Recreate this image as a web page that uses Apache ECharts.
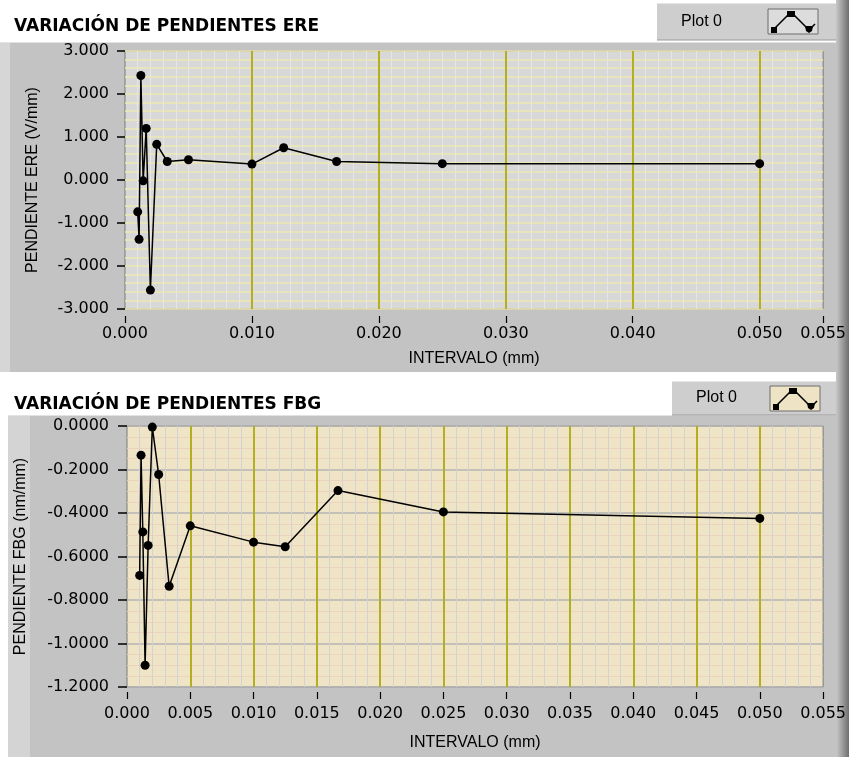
<!DOCTYPE html>
<html>
<head>
<meta charset="utf-8">
<script src="https://cdn.jsdelivr.net/npm/echarts@6/dist/echarts.min.js"></script>
<style>
  html, body { margin: 0; padding: 0; background: #ffffff; }
  #chart { width: 849px; height: 757px; }
</style>
</head>
<body>
<div id="chart"></div>
<script>
// Intervalo de medida (mm) y pendientes calculadas para cada intervalo
const intervalo    = [0.001, 0.00111, 0.00125, 0.00143, 0.00167, 0.002, 0.0025, 0.00333, 0.005, 0.01, 0.0125, 0.01667, 0.025, 0.05];
const pendienteERE = [-0.74, -1.38, 2.43, -0.02, 1.20, -2.56, 0.83, 0.43, 0.47, 0.37, 0.75, 0.43, 0.38, 0.38];
const pendienteFBG = [-0.687, -0.134, -0.487, -1.10, -0.549, -0.005, -0.223, -0.737, -0.459, -0.534, -0.555, -0.297, -0.395, -0.425];

// Rangos y pasos de los ejes
const xRange = [0, 0.055];
const ereRange = [-3, 3];
const fbgRange = [-1.2, 0];
const xStepERE = 0.01;
const xStepFBG = 0.005;
const xMinorStep = 0.001;
const ereStep = 1;
const fbgStep = 0.2;

const titles = ['VARIACIÓN DE PENDIENTES ERE', 'VARIACIÓN DE PENDIENTES FBG'];
const yNames = ['PENDIENTE ERE (V/mm)', 'PENDIENTE FBG (nm/mm)'];
const xName = 'INTERVALO (mm)';
const plotName = 'Plot 0';

const NUM_FONT = 'DejaVu Sans';
const TXT_FONT = 'Liberation Sans';
const OLIVE = '#b2b020';

const pairs = ys => intervalo.map((x, i) => [x, ys[i]]);

// eje auxiliar: sólo las líneas finas de la rejilla vertical
function minorXAxis(grid, color) {
  return {
    type: 'value', gridIndex: grid, position: 'top', min: xRange[0], max: xRange[1], interval: xMinorStep,
    axisLine: { show: false }, axisTick: { show: false }, axisLabel: { show: false },
    splitLine: { show: true, showMinLine: false, showMaxLine: false, lineStyle: { color: color, width: 1 } }
  };
}

// eje principal: marcas, etiquetas y líneas mayores
function mainXAxis(grid, step, offset, margin, nameGap) {
  return {
    type: 'value', gridIndex: grid, position: 'bottom', min: xRange[0], max: xRange[1], interval: step,
    offset: offset,
    name: xName, nameLocation: 'middle', nameGap: nameGap,
    nameTextStyle: { fontFamily: TXT_FONT, fontSize: 16, color: '#000' },
    axisLine: { show: false },
    axisTick: { show: true, length: 7, lineStyle: { color: '#000', width: 1.2 } },
    axisLabel: {
      show: true, margin: margin, showMinLabel: true, showMaxLabel: true, hideOverlap: false,
      fontFamily: NUM_FONT, fontSize: 16, color: '#000',
      formatter: v => v.toFixed(3)
    },
    splitLine: { show: true, showMinLine: false, showMaxLine: false, lineStyle: { color: OLIVE, width: 2 } }
  };
}

function legendBox(x, y, w, h, textX, iconX, iconY, iconFill) {
  return [
    { type: 'rect', shape: { x: x, y: y, width: w, height: h }, style: { fill: '#cecece' }, z: 1 },
    { type: 'line', shape: { x1: x, y1: y + h, x2: x + w, y2: y + h }, style: { stroke: '#9a9a9a', lineWidth: 1 }, z: 2 },
    { type: 'line', shape: { x1: x, y1: y + 0.5, x2: x + w, y2: y + 0.5 }, style: { stroke: '#e6e6e6', lineWidth: 1 }, z: 2 },
    { type: 'text', style: { text: plotName, x: textX, y: y + h / 2, verticalAlign: 'middle',
      font: '16px "Liberation Sans"', fill: '#000' }, z: 3 },
    { type: 'rect', shape: { x: iconX, y: iconY, width: 50, height: 25 },
      style: { fill: iconFill, stroke: '#6c6c6c', lineWidth: 1 }, z: 2 },
    { type: 'polyline', shape: { points: [[iconX + 5, iconY + 21], [iconX + 20, iconY + 6], [iconX + 26, iconY + 6], [iconX + 41, iconY + 21], [iconX + 47, iconY + 15]] },
      style: { stroke: '#000', lineWidth: 1.5, fill: null }, z: 3 },
    { type: 'rect', shape: { x: iconX + 3, y: iconY + 18, width: 6, height: 6 }, style: { fill: '#000' }, z: 4 },
    { type: 'rect', shape: { x: iconX + 19, y: iconY + 2, width: 8, height: 6 }, style: { fill: '#000' }, z: 4 },
    { type: 'polygon', shape: { points: [[iconX + 37, iconY + 17], [iconX + 45, iconY + 17], [iconX + 44, iconY + 22], [iconX + 41, iconY + 24], [iconX + 38, iconY + 22]] }, style: { fill: '#000' }, z: 4 }
  ];
}

const chart = echarts.init(document.getElementById('chart'), null, { renderer: 'canvas' });

const option = {
  animation: false,
  backgroundColor: '#ffffff',
  title: [
    { text: titles[0], left: 14, top: 18, padding: 0,
      textStyle: { fontFamily: NUM_FONT, fontWeight: 'bold', fontSize: 17, color: '#000' } },
    { text: titles[1], left: 14, top: 396, padding: 0,
      textStyle: { fontFamily: NUM_FONT, fontWeight: 'bold', fontSize: 17, color: '#000' } }
  ],
  graphic: [
    // paneles grises
    { type: 'rect', shape: { x: 0, y: 42, width: 840, height: 330 }, style: { fill: '#c3c3c3' }, z: -10 },
    { type: 'rect', shape: { x: 0, y: 42, width: 10, height: 330 }, style: { fill: '#d6d6d6' }, z: -9 },
    { type: 'line', shape: { x1: 0, y1: 42.5, x2: 840, y2: 42.5 }, style: { stroke: '#e2e2e2', lineWidth: 1 }, z: -9 },
    { type: 'rect', shape: { x: 8, y: 415, width: 832, height: 342 }, style: { fill: '#c3c3c3' }, z: -10 },
    { type: 'rect', shape: { x: 8, y: 415, width: 22, height: 342 }, style: { fill: '#d4d4d4' }, z: -9 },
    { type: 'line', shape: { x1: 8, y1: 415.5, x2: 840, y2: 415.5 }, style: { stroke: '#e2e2e2', lineWidth: 1 }, z: -9 },
    // borde derecho sombreado
    { type: 'rect', shape: { x: 836, y: 0, width: 13, height: 757 },
      style: { fill: new echarts.graphic.LinearGradient(0, 0, 1, 0, [
        { offset: 0, color: '#c8c8c8' }, { offset: 0.5, color: '#9c9c9c' }, { offset: 1, color: '#6e6e6e' }]) }, z: -8 },
    ...legendBox(657, 3, 179, 37, 681, 768, 9, '#dcdcdc'),
    ...legendBox(672, 381, 164, 34, 696, 770, 386, '#efe3c5')
  ],
  grid: [
    { left: 125, top: 51, width: 699, height: 258, show: true, backgroundColor: '#d8d8d8',
      borderColor: '#7a7a7a', borderWidth: 1 },
    { left: 127, top: 426, width: 697, height: 261, show: true, backgroundColor: '#f0e4c6',
      borderColor: '#7a7a7a', borderWidth: 1 }
  ],
  xAxis: [
    minorXAxis(0, '#e6e6e6'),
    mainXAxis(0, xStepERE, 7, 10, 35),
    minorXAxis(1, '#d2d2d2'),
    mainXAxis(1, xStepFBG, 5, 14, 43)
  ],
  yAxis: [
    {
      type: 'value', gridIndex: 0, position: 'left', min: ereRange[0], max: ereRange[1], interval: ereStep,
      offset: 4,
      name: yNames[0], nameLocation: 'middle', nameGap: 80, nameRotate: 90,
      nameTextStyle: { fontFamily: TXT_FONT, fontSize: 16, color: '#000' },
      axisLine: { show: false },
      axisTick: { show: true, length: 8, lineStyle: { color: '#000', width: 1.5 } },
      axisLabel: { margin: 12, fontFamily: NUM_FONT, fontSize: 16, color: '#000',
        formatter: v => v.toFixed(3) },
      splitLine: { show: true, lineStyle: { color: '#ebe9ae', width: 1.5 } },
      minorTick: { show: false, splitNumber: 5 },
      minorSplitLine: { show: true, lineStyle: { color: '#ebe9ae', width: 1.5 } }
    },
    {
      type: 'value', gridIndex: 1, position: 'left', min: fbgRange[0], max: fbgRange[1], interval: fbgStep,
      offset: 5,
      name: yNames[1], nameLocation: 'middle', nameGap: 93, nameRotate: 90,
      nameTextStyle: { fontFamily: TXT_FONT, fontSize: 16, color: '#000' },
      axisLine: { show: false },
      axisTick: { show: true, length: 9, lineStyle: { color: '#000', width: 1.5 } },
      axisLabel: { margin: 13, fontFamily: NUM_FONT, fontSize: 16, color: '#000',
        formatter: v => v.toFixed(4) },
      splitLine: { show: true, lineStyle: { color: '#b4b4b4', width: 1.5 } },
      minorTick: { show: false, splitNumber: 4 },
      minorSplitLine: { show: true, lineStyle: { color: '#ebd3c0', width: 1 } }
    }
  ],
  series: [
    {
      type: 'line', name: plotName, xAxisIndex: 1, yAxisIndex: 0,
      data: pairs(pendienteERE),
      symbol: 'circle', symbolSize: 9,
      lineStyle: { color: '#000', width: 1.5 },
      itemStyle: { color: '#000' }
    },
    {
      type: 'line', name: plotName, xAxisIndex: 3, yAxisIndex: 1,
      data: pairs(pendienteFBG),
      symbol: 'circle', symbolSize: 9,
      lineStyle: { color: '#000', width: 1.5 },
      itemStyle: { color: '#000' }
    }
  ]
};

chart.setOption(option);
</script>
</body>
</html>
